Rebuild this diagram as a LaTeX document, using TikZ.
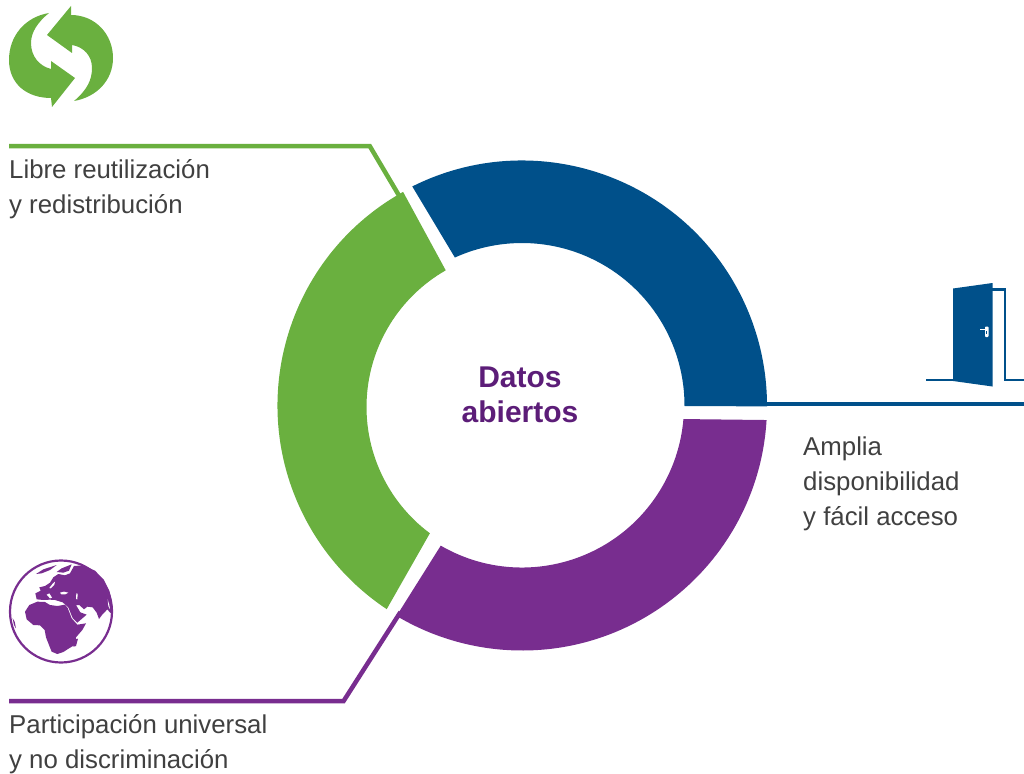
\documentclass[tikz,border=0pt]{standalone}
\usepackage{fontspec}
\setmainfont{Liberation Sans}
\usetikzlibrary{calc}
\definecolor{cblue}{HTML}{00508A}
\definecolor{cgreen}{HTML}{6AB03F}
\definecolor{cpurple}{HTML}{782D8F}
\definecolor{ctitle}{HTML}{5C1D78}
\definecolor{ctext}{HTML}{404040}
\tikzset{
  lbl/.style={anchor=north west,inner sep=0pt,align=left,text=ctext,font=\fontsize{25.8}{35}\selectfont},
  ttl/.style={inner sep=0pt,align=center,text=ctitle,font=\bfseries\fontsize{30}{35}\selectfont},
  leader/.style={line width=4.5pt,miter limit=10}
}
\begin{document}
\begin{tikzpicture}[x=1pt,y=-1pt]
\useasboundingbox (0,0) rectangle (1024,773);
\coordinate (C) at (522,405.5);
\coordinate (Cg) at (524,407);
% blue
\fill[cblue] ($(C)+(-116.6:245)$) arc[start angle=-116.6,end angle=0.2,radius=245]
  -- ($(C)+(0.2:162.5)$) arc[start angle=0.2,end angle=-114.4,radius=162.5] -- cycle;
% green
\fill[cgreen] ($(C)+(240.9:244.5)$) arc[start angle=240.9,end angle=123.6,radius=244.5]
  -- ($(Cg)+(126.7:157.5)$) arc[start angle=126.7,end angle=240.2,radius=157.5] -- cycle;
% purple
\fill[cpurple] ($(C)+(3.4:245)$) arc[start angle=3.4,end angle=120.8,radius=245]
  -- ($(C)+(120.1:162)$) arc[start angle=120.1,end angle=4.8,radius=162] -- cycle;
% leaders
\coordinate (gA) at (9,146);
\coordinate (gB) at (369.7,146);
\coordinate (gC) at (404.6,205);
\coordinate (pA) at (9,701);
\coordinate (pB) at (343.6,701);
\coordinate (pC) at (400.5,612);
\coordinate (bA) at (764,404);
\coordinate (bB) at (1024,404);
\draw[leader,cgreen] (gA) -- (gB) -- (gC);
\draw[leader,cpurple] (pA) -- (pB) -- (pC);
\draw[leader,cblue] (bA) -- (bB);
% text
\node[ttl] (title) at (520,395) {Datos\\abiertos};
\node[lbl] (l1) at (9,159) {Libre reutilización\\y redistribución};
\node[lbl] (l2) at (803,437) {Amplia\\disponibilidad\\y fácil acceso};
\node[lbl] (l3) at (9,714) {Participación universal\\y no discriminación};
% recycle icon
\fill[cgreen] (71,15) .. controls (95,15) and (113,34) .. (113,58) .. controls (113,80) and (97,97) .. (74,101)
  .. controls (87,90) and (92,80) .. (92,68) .. controls (92,56) and (84,47) .. (72,45) -- (72,53) -- (47,35) -- (71,6) -- cycle;
\fill[cgreen] (51,98) .. controls (27,98) and (9,84) .. (9,60) .. controls (9,36) and (25,17) .. (49,13)
  .. controls (38,22) and (31,32) .. (31,43) .. controls (31,56) and (39,66) .. (51,69) -- (51,61) -- (75,78) -- (52,107) -- cycle;
% door
\draw[cblue,line width=2.2pt] (926,380) -- (953,380);
\draw[cblue,line width=2.2pt] (992,289.5) -- (1005,289.5) -- (1005,380) -- (1024,380);
\fill[cblue] (953,288.5) -- (992.5,283) -- (992.5,386.5) -- (953,381) -- cycle;
\fill[white] (980,328.5) rectangle (985,329.8);
\fill[white,rounded corners=0.8pt] (985,326.5) rectangle (988.5,337);
\fill[cblue] (986.2,331) rectangle (987.3,334);
% globe
\draw[cpurple,line width=2.2pt] (61,611.5) circle[radius=51];
\begin{scope}[x=0.33333pt,y=-0.33333pt,shift={(0pt,-550pt)},cpurple]
\fill (75,185) -- (88,165) -- (112,155) -- (135,156) -- (150,165) -- (172,168) -- (195,164) -- (203,174)
  -- (215,205) -- (232,224) -- (258,220) -- (247,240) -- (228,262) -- (224,285) -- (207,295) -- (190,306)
  -- (172,312) -- (155,305) -- (147,285) -- (138,262) -- (134,240) -- (120,226) -- (100,225) -- (80,208) -- cycle;
\fill (205,172) -- (188,157) -- (165,150) -- (150,149) -- (130,150) -- (110,148) -- (106,130) -- (122,122)
  -- (118,112) -- (135,108) -- (150,98) -- (160,82) -- (175,72) -- (195,76) -- (210,70) -- (222,48)
  -- (250,46) -- (285,62) -- (312,90) -- (328,122) -- (336,155) -- (332,190) -- (322,178) -- (306,195)
  -- (297,207) -- (290,188) -- (278,172) -- (262,170) -- (252,178) -- (238,165) -- (228,165) -- (241,187)
  -- (260,194) -- (232,218) -- (218,204) -- cycle;
\fill (108,72) -- (130,58) -- (170,45) -- (150,60) -- (125,70) -- cycle;
\fill (170,66) -- (185,55) -- (215,43) -- (207,62) -- (190,68) -- cycle;
\fill (222,268) -- (234,266) -- (228,288) -- (220,290) -- cycle;
\fill (38,205) -- (44,215) -- (48,235) -- (42,225) -- cycle;
\fill[white] (180,128) -- (192,125) -- (205,128) -- (196,133) -- (184,133) -- cycle;
\fill[white] (229,130) -- (233,131) -- (232,148) -- (228,147) -- cycle;
\fill[white] (148,114) -- (158,101) -- (165,95) -- (163,104) -- (152,115) -- cycle;
\fill[white] (140,134) -- (148,130) -- (156,143) -- (150,145) -- cycle;
\fill[white] (323,148) -- (328,165) -- (330,178) -- (325,168) -- cycle;
\end{scope}
\end{tikzpicture}
\end{document}
